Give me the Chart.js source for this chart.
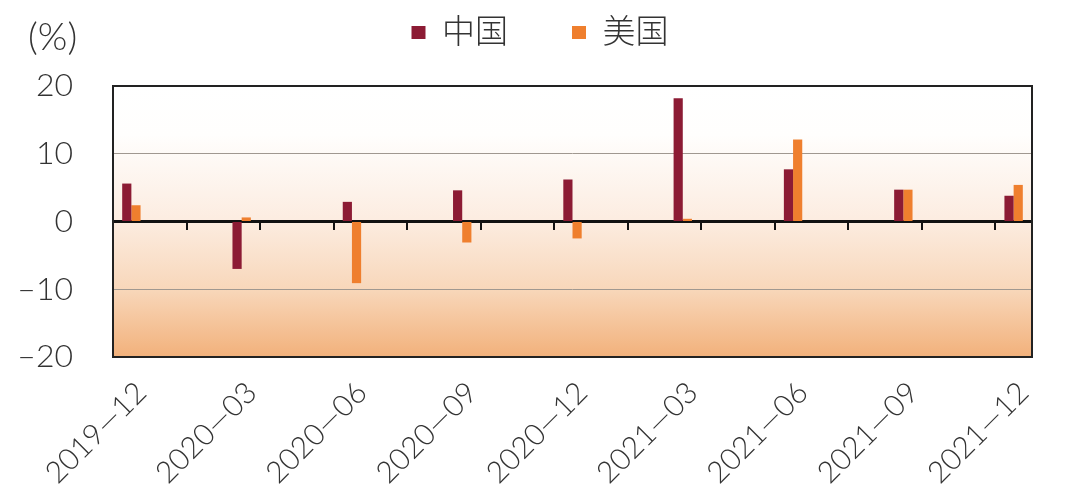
<!DOCTYPE html>
<html>
<head>
<meta charset="utf-8">
<script src="https://cdn.jsdelivr.net/npm/chart.js@4/dist/chart.umd.min.js"></script>
<style>
  body { margin: 0; background: #fff; }
  #wrap { position: relative; width: 1080px; height: 493px; }
  #unit { position: absolute; left: 28px; top: 12px; font: 300 38px Lato, 'Noto Sans CJK SC', sans-serif; color: #333; }
</style>
</head>
<body>
<div id="wrap">
  <canvas id="myChart" width="1080" height="493"></canvas>
  <div id="unit">(%)</div>
</div>
<script>
// monthly axis, bars only at quarter ends
const months = ['2019—12', '2020—01', '2020—02', '2020—03', '2020—04', '2020—05', '2020—06',
    '2020—07', '2020—08', '2020—09', '2020—10', '2020—11', '2020—12', '2021—01', '2021—02',
    '2021—03', '2021—04', '2021—05', '2021—06', '2021—07', '2021—08', '2021—09', '2021—10',
    '2021—11', '2021—12'];
const quarters = ['2019—12', '2020—03', '2020—06', '2020—09', '2020—12', '2021—03', '2021—06', '2021—09', '2021—12'];
const china = [5.6, -7.0, 2.9, 4.6, 6.2, 18.2, 7.7, 4.7, 3.8];
const usa = [2.4, 0.6, -9.1, -3.1, -2.5, 0.4, 12.1, 4.7, 5.4];
const yTicks = [-20, -10, 0, 10, 20];

const FONT = "Lato, 'Noto Sans CJK SC', sans-serif";

function toMonthly(values) {
    return months.map(m => {
        const i = quarters.indexOf(m);
        return i >= 0 ? values[i] : null;
    });
}

const plotBg = {
    id: 'plotBg',
    beforeInit(chart) {
        // make room under the legend
        const fit = chart.legend.fit;
        chart.legend.fit = function () {
            fit.call(this);
            this.height = 134;
        };
    },
    beforeDraw(chart) {
        const { ctx, chartArea: a } = chart;
        const g = ctx.createLinearGradient(0, a.top, 0, a.bottom);
        g.addColorStop(0, '#ffffff');
        g.addColorStop(0.18, '#fffefd');
        g.addColorStop(0.5, '#fcece0');
        g.addColorStop(0.75, '#f8d7ba');
        g.addColorStop(1, '#f2b17b');
        ctx.save();
        ctx.fillStyle = g;
        ctx.fillRect(a.left, a.top, a.right - a.left, a.bottom - a.top);
        ctx.restore();
    },
    afterDraw(chart) {
        const { ctx, chartArea: a } = chart;
        ctx.save();
        ctx.strokeStyle = '#222';
        ctx.lineWidth = 2;
        ctx.strokeRect(a.left, a.top, a.right - a.left, a.bottom - a.top);
        ctx.restore();
    }
};

const ctx = document.getElementById('myChart').getContext('2d');
new Chart(ctx, {
    type: 'bar',
    data: {
        labels: months,
        datasets: [
            { label: '中国', data: toMonthly(china), backgroundColor: '#8c1b34' },
            { label: '美国', data: toMonthly(usa), backgroundColor: '#ef7f2e' }
        ]
    },
    options: {
        responsive: false,
        animation: false,
        categoryPercentage: 0.5,
        barPercentage: 1,
        layout: { padding: { top: -48, right: 0, left: 0, bottom: 0 } },
        plugins: {
            tooltip: { enabled: false },
            legend: {
                position: 'top',
                labels: {
                    boxWidth: 14,
                    boxHeight: 13,
                    padding: 64,
                    color: '#333',
                    font: { family: FONT, size: 33, weight: 300 }
                }
            }
        },
        scales: {
            x: {
                position: 'bottom',
                offset: true,
                grid: { display: false },
                border: { display: false },
                ticks: {
                    autoSkip: false,
                    minRotation: 45,
                    maxRotation: 45,
                    padding: 10,
                    labelOffset: 10,
                    color: '#333',
                    font: { family: FONT, size: 30, weight: 300 },
                    callback: (v, i) => quarters.includes(months[i]) ? months[i] : ''
                },
                afterFit: s => { s.height = 136; }
            },
            xz: {
                type: 'category',
                axis: 'x',
                labels: months,
                offset: true,
                position: { y: 0 },
                grid: {
                    offset: true,
                    drawOnChartArea: false,
                    drawTicks: true,
                    tickLength: 7,
                    lineWidth: 2,
                    color: c => c.index % 2 === 0 ? '#111' : 'rgba(0,0,0,0)'
                },
                border: { display: true, width: 3, color: '#111' },
                ticks: { display: false, autoSkip: false }
            },
            y: {
                min: -20,
                max: 20,
                afterBuildTicks: s => { s.ticks = yTicks.map(v => ({ value: v })); },
                grid: {
                    drawTicks: false,
                    color: c => (c.tick && Math.abs(c.tick.value) === 10) ? '#a09890' : 'rgba(0,0,0,0)'
                },
                border: { display: false },
                ticks: {
                    padding: 40,
                    color: '#333',
                    font: { family: FONT, size: 32, weight: 300 },
                    callback: v => v < 0 ? '–' + Math.abs(v) : String(v)
                },
                afterFit: s => { s.width = 113; }
            },
            yr: {
                position: 'right',
                display: true,
                grid: { display: false },
                border: { display: false },
                ticks: { display: false },
                afterFit: s => { s.width = 48; }
            }
        }
    },
    plugins: [plotBg]
});
</script>
</body>
</html>
